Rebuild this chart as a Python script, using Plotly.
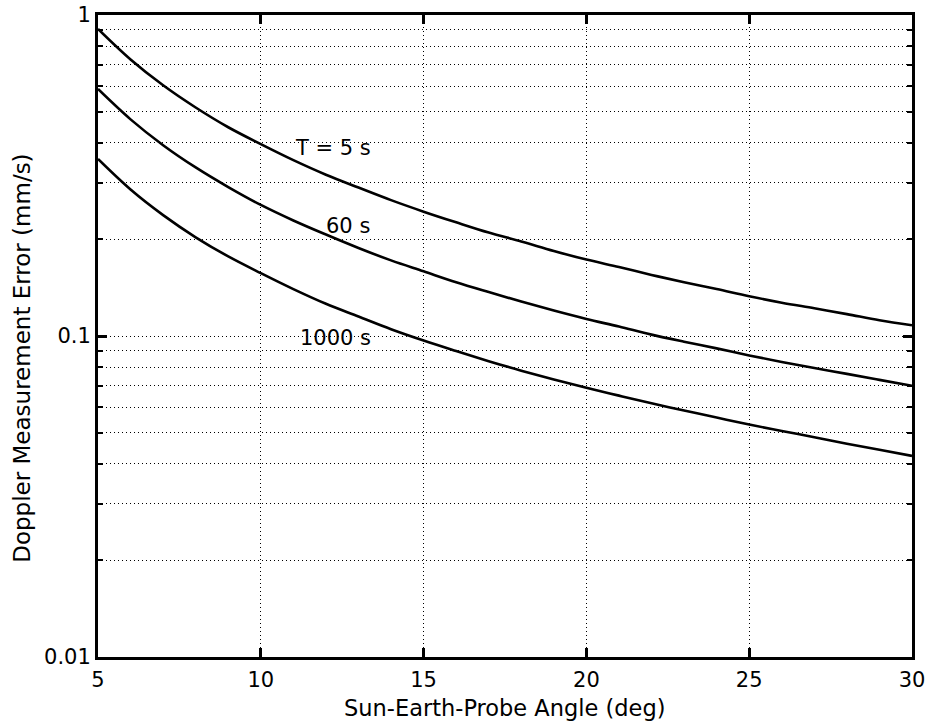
import math
import plotly.graph_objects as go

angle = [5, 6, 7, 8, 9, 10, 11, 12, 13, 14, 15, 16, 17, 18, 19, 20,
         21, 22, 23, 24, 25, 26, 27, 28, 29, 30]
err_5s = [0.905, 0.727, 0.604, 0.515, 0.447, 0.396, 0.353, 0.318, 0.290, 0.265,
          0.244, 0.226, 0.210, 0.197, 0.184, 0.173, 0.164, 0.155, 0.147, 0.140,
          0.133, 0.127, 0.122, 0.117, 0.112, 0.108]
err_60s = [0.588, 0.473, 0.393, 0.335, 0.291, 0.256, 0.229, 0.207, 0.188, 0.172,
           0.159, 0.147, 0.137, 0.128, 0.120, 0.113, 0.107, 0.101, 0.0960, 0.0915,
           0.0870, 0.0830, 0.0795, 0.0762, 0.0730, 0.0700]
err_1000s = [0.356, 0.286, 0.238, 0.203, 0.177, 0.157, 0.140, 0.126, 0.115, 0.105,
             0.0968, 0.0898, 0.0835, 0.0780, 0.0732, 0.0690, 0.0652, 0.0617, 0.0586, 0.0557,
             0.0530, 0.0506, 0.0484, 0.0462, 0.0442, 0.0423]

labels = ["T = 5 s", "60 s", "1000 s"]
label_x = [11.0, 11.95, 11.15]
label_y = [0.385, 0.22, 0.0986]

x_ticks = [5, 10, 15, 20, 25, 30]
y_ticks = [0.01, 0.1, 1]
y_ticktext = ["0.01", "0.1", "1"]
y_minor = [m * d for d in (0.01, 0.1) for m in range(2, 10)]

x_title = "Sun-Earth-Probe Angle (deg)"
y_title = "Doppler Measurement Error (mm/s)"

FONT = "DejaVu Sans, Liberation Sans, Arial"

fig = go.Figure()
for ys in (err_5s, err_60s, err_1000s):
    fig.add_trace(go.Scatter(x=angle, y=ys, mode="lines", line=dict(color="black", width=2.6),
                             line_shape="spline", showlegend=False, hoverinfo="skip"))

for t, xx, yy in zip(labels, label_x, label_y):
    fig.add_annotation(x=xx, y=math.log10(yy), xref="x", yref="y", text=t, showarrow=False,
                       xanchor="left", yanchor="middle",
                       font=dict(family=FONT, size=21, color="black"))

fig.add_annotation(x=0.5, y=-0.08, xref="paper", yref="paper", text=x_title,
                   showarrow=False, xanchor="center", yanchor="middle",
                   font=dict(family=FONT, size=22.5, color="black"))
fig.add_annotation(x=-0.093, y=0.465, xref="paper", yref="paper", text=y_title,
                   showarrow=False, xanchor="center", yanchor="middle", textangle=-90,
                   font=dict(family=FONT, size=23, color="black"))

axis_common = dict(showline=True, linecolor="black", linewidth=3, mirror="ticks",
                   ticks="inside", ticklen=9, tickwidth=3, tickcolor="black",
                   showgrid=True, gridcolor="black", gridwidth=1, griddash="1px,3px",
                   zeroline=False, automargin=False, ticklabeloverflow="allow",
                   tickfont=dict(family=FONT, size=21, color="black"))

fig.update_xaxes(range=[5, 30], tickmode="array", tickvals=x_ticks,
                 ticklabelstandoff=2, **axis_common)
fig.update_yaxes(type="log", range=[-2, 0], tickmode="array", tickvals=y_ticks,
                 ticktext=y_ticktext, ticklabelstandoff=0,
                 minor=dict(tickmode="array", tickvals=y_minor, ticks="inside", ticklen=5,
                            tickwidth=2, tickcolor="black", showgrid=True, gridcolor="black",
                            gridwidth=1, griddash="1px,3px"),
                 **axis_common)

fig.update_layout(width=930, height=727, margin=dict(l=98, r=18, t=15, b=70, autoexpand=False),
                  plot_bgcolor="white", paper_bgcolor="white",
                  font=dict(family=FONT, color="black"))
fig.write_html("out.html", config={"displayModeBar": False},
               post_script="document.body.style.margin='0';document.body.style.overflow='hidden';")
